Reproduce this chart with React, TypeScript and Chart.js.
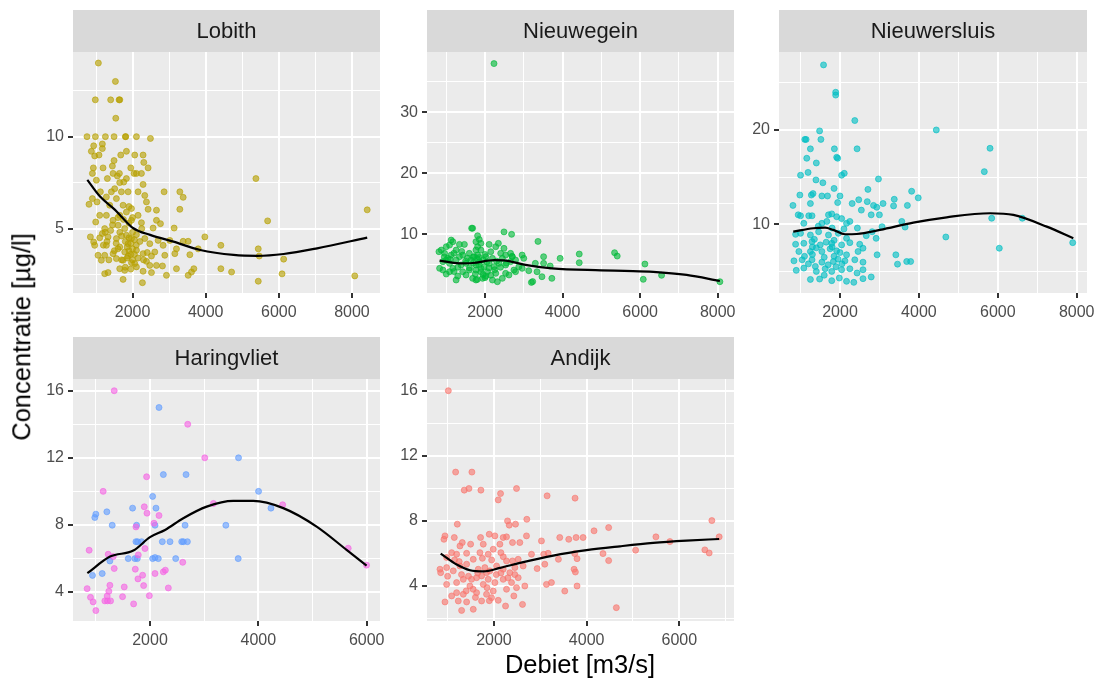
import React, { useEffect, useRef } from "react";
import { Chart, registerables } from "chart.js";

Chart.register(...registerables);

const FONT = '"Liberation Sans", Arial, Helvetica, sans-serif';

// ---------------- DATA ----------------
const stations = ["Lobith", "Nieuwegein", "Nieuwersluis", "Haringvliet", "Andijk"];

const lobithPoints: [number, number][] = [
  [1064, 14], [1530, 13], [980, 12], [1400, 12], [1630, 12], [1650, 12], [1540, 11],
  [753, 10], [982, 10], [1256, 10], [1493, 10], [1803, 10], [1812, 10], [2105, 10], [2488, 9.9],
  [1173, 9.6], [936, 9.5], [872, 9.2], [1173, 9.35], [963, 8.95], [1082, 9.0], [1831, 9.2], [1676, 9.0],
  [2059, 9.0], [2287, 9.0], [1493, 8.7], [2306, 8.6], [1447, 8.4], [927, 8.3], [1192, 8.3], [2424, 8.3],
  [1950, 8.3], [2105, 8.0], [1639, 8.0], [2242, 8.0], [900, 8.0], [1466, 8.0], [1584, 7.86], [1831, 7.72],
  [1310, 7.72], [1009, 7.63], [2041, 8.0], [1758, 7.53], [2287, 7.4], [1648, 7.5], [1511, 7.17], [1420, 7.0],
  [1119, 7.0], [1694, 7.0], [1877, 7.0], [2150, 7.0], [2862, 7.0], [3292, 7.0], [3383, 6.7], [1283, 6.72],
  [1557, 6.63], [2333, 6.8], [900, 6.63], [808, 6.32], [1027, 6.45], [1374, 6.27], [1740, 6.27], [1968, 6.09],
  [2424, 6.05], [3292, 6.05], [2653, 6.0], [2379, 6.45], [1100, 5.72], [1283, 5.72], [1648, 5.72], [1831, 5.9],
  [2150, 5.72], [991, 5.36], [1466, 5.45], [1968, 5.45], [2242, 5.32], [2653, 5.45], [2762, 5.27], [1237, 5.0],
  [1603, 5.18], [1785, 5.0], [2561, 5.03], [3136, 5.03], [845, 4.55], [936, 4.27], [1173, 4.73], [1329, 4.55],
  [1557, 4.46], [1831, 4.64], [1968, 4.46], [2105, 4.67], [2333, 4.46], [2698, 4.36], [2835, 4.09], [3018, 4.36],
  [3383, 4.31], [3520, 4.31], [3976, 4.55], [963, 4.09], [1283, 4.09], [1648, 4.0], [1877, 4.18], [2470, 4.18],
  [3200, 3.9], [3794, 3.9], [4414, 4.09], [5437, 3.9], [1055, 3.55], [1237, 3.55], [1466, 3.64], [1785, 3.73],
  [1877, 3.51], [2105, 3.82], [2287, 3.64], [2516, 3.51], [2607, 3.73], [2881, 3.55], [3155, 3.64], [3566, 3.58],
  [5464, 3.51], [1146, 3.28], [1557, 3.37], [1740, 3.28], [1968, 3.15], [2059, 3.1], [2379, 3.22], [2470, 3.0],
  [2653, 3.0], [2105, 2.92], [2817, 2.97], [1237, 2.55], [1329, 2.61], [1648, 2.82], [1785, 2.73], [2287, 2.68],
  [2516, 2.61], [2926, 2.46], [3200, 2.82], [3520, 2.46], [3611, 2.64], [3675, 2.82], [4414, 2.82], [4707, 2.64],
  [1740, 2.24], [2269, 2.06], [5437, 2.14], [5373, 7.72], [5693, 5.42], [6132, 3.34], [6088, 2.54], [8077, 2.43],
  [8417, 6.02], [1900, 3.8], [2000, 3.9], [1950, 4.2], [2050, 3.6], [1850, 3.4], [2000, 4.8], [1900, 5.3],
  [2100, 4.1], [1700, 4.6], [1600, 3.9], [1400, 4.9], [1300, 4.3], [1200, 4.1], [1350, 3.3], [1450, 5.2],
  [1900, 4.5], [2200, 4.3], [2300, 3.3], [1800, 2.9], [2000, 3.3],
  [1550, 4.2], [1650, 4.8], [1750, 5.5], [1850, 4.0], [1950, 3.6], [2050, 4.4], [2150, 3.4], [1600, 5.6],
  [1700, 3.3], [1900, 6.2], [2000, 5.6], [1800, 4.3], [1500, 3.8], [1250, 4.8], [1100, 4.5], [2250, 5.0],
  [2400, 3.7], [1950, 2.8],
];
const lobithSmooth: [number, number][] = [
  [762, 7.65], [1110, 6.74], [1520, 6.02], [1677, 5.69], [2022, 5.02], [2480, 4.66], [3118, 4.29],
  [3850, 3.84], [4762, 3.57], [5403, 3.52], [6132, 3.62], [7047, 3.93], [8417, 4.51],
];

const nieuwegeinPoints: [number, number][] = [
  [1656, 11.0], [1681, 11.0], [2490, 10.4], [2686, 10.0], [1809, 9.77], [3366, 8.84], [1128, 9.06], [1171, 8.79],
  [1341, 8.35], [1469, 8.35], [1001, 7.97], [873, 7.42], [813, 7.15], [1086, 8.24], [1256, 7.42], [1767, 8.79],
  [1809, 7.97], [1894, 7.42], [2107, 8.35], [2345, 8.52], [2490, 7.7], [2277, 7.97], [2149, 7.15], [2405, 6.88],
  [2532, 6.6], [2703, 6.33], [2958, 6.6], [3000, 6.06], [1596, 6.88], [1426, 6.6], [1128, 6.6], [958, 6.88],
  [1724, 6.33], [2022, 6.33], [3511, 6.33], [3937, 6.06], [4430, 6.77], [4430, 5.35], [5341, 6.99], [5409, 6.44],
  [3298, 5.24], [3511, 5.24], [3681, 4.8], [3128, 4.04], [3341, 3.87], [3469, 3.05], [3724, 2.78], [3196, 2.12],
  [3230, 2.25], [830, 4.42], [916, 4.14], [1001, 3.49], [1086, 3.87], [1256, 2.51], [1298, 3.16], [1511, 3.33],
  [1681, 2.78], [1767, 2.51], [1937, 2.78], [2022, 3.16], [2192, 2.51], [2320, 2.23], [2447, 2.78], [2532, 3.6],
  [2745, 4.14], [2873, 4.69], [916, 5.51], [1086, 5.24], [1256, 5.78], [1384, 4.97], [1511, 5.24], [1639, 5.78],
  [1767, 4.97], [1852, 5.51], [1979, 4.69], [2107, 5.24], [2235, 4.69], [2362, 5.24], [2532, 4.97], [2660, 5.51],
  [2788, 5.78], [1767, 4.14], [1894, 3.87], [2064, 3.87], [1596, 4.14], [1426, 3.87], [2277, 3.6], [2618, 3.33],
  [1171, 4.42], [1043, 6.06], [1341, 6.33], [1809, 6.6], [1894, 8.52], [1852, 9.17], [1767, 7.42], [2192, 6.06],
  [2447, 6.06], [2660, 6.88], [2788, 3.87], [2958, 4.42], [2232, 38.0], [6123, 5.13], [6080, 2.62], [6553, 3.28],
  [8056, 2.23], [1800, 6.0], [1850, 5.0], [1900, 4.4], [1750, 3.5], [1950, 5.8], [2000, 2.9], [1700, 5.3],
  [1550, 6.1], [1200, 6.9], [1000, 5.8], [2100, 4.5], [2300, 5.6],
  [1100, 5.9], [1300, 4.6], [1500, 5.6], [1600, 4.5], [1700, 6.3], [1850, 6.2], [1950, 3.4], [2050, 5.5],
  [2150, 3.3], [2250, 4.2], [2400, 4.6], [2550, 5.3], [1400, 7.2], [1200, 3.9], [950, 6.3], [2700, 6.4],
  [1800, 2.6], [2000, 6.7],
];
const nieuwegeinSmooth: [number, number][] = [
  [830, 5.7], [1341, 5.25], [1681, 5.3], [2235, 5.78], [2532, 5.7], [3043, 5.0], [3724, 4.42],
  [5000, 4.1], [5596, 4.0], [6337, 3.85], [7198, 3.35], [8056, 2.35],
];

const nieuwersluisPoints: [number, number][] = [
  [1583, 26.9], [1891, 24.0], [1891, 23.7], [2375, 21.0], [4441, 20.0], [1483, 19.9], [1108, 19.0], [1141, 19.0],
  [1516, 19.0], [1250, 18.0], [1858, 18.0], [2433, 18.0], [1158, 17.0], [1916, 17.1], [1941, 17.0], [1400, 16.5],
  [1191, 15.5], [1000, 15.2], [2041, 15.2], [2108, 15.4], [1391, 14.7], [1566, 14.4], [2975, 14.8], [1850, 13.8],
  [983, 13.1], [1275, 13.1], [1316, 13.25], [1541, 13.0], [1683, 13.0], [2000, 13.0], [2708, 13.7], [3816, 13.5],
  [3983, 12.8], [3375, 12.65], [3358, 11.95], [2475, 12.6], [2308, 12.2], [2691, 12.4], [2850, 12.0], [2933, 11.8],
  [3091, 12.2], [3708, 12.0], [808, 12.0], [1250, 12.2], [1941, 12.3], [2541, 11.5], [2791, 11.0], [2999, 11.0],
  [3566, 10.3], [3650, 9.7], [4683, 8.65], [941, 11.0], [1000, 10.9], [1208, 10.9], [1291, 10.9], [1708, 11.0],
  [1791, 11.1], [1916, 10.8], [2041, 10.6], [2166, 10.1], [2250, 10.3], [1083, 10.1], [1541, 10.1], [1666, 10.3],
  [2441, 9.6], [3066, 9.74], [875, 8.93], [1000, 9.04], [1250, 8.86], [1458, 9.21], [1708, 8.86], [1958, 9.04],
  [2166, 8.51], [2666, 8.79], [2916, 8.51], [2816, 9.21], [875, 7.88], [1083, 7.98], [1291, 8.16], [1500, 7.81],
  [1791, 7.98], [2041, 7.81], [2250, 8.05], [2500, 7.88], [958, 7.11], [1250, 7.11], [1541, 7.11], [1916, 7.18],
  [2166, 6.76], [2458, 7.11], [2583, 7.46], [2941, 6.76], [3416, 6.76], [3691, 6.05], [3791, 6.05], [833, 6.12],
  [1041, 6.23], [1291, 6.23], [1541, 5.98], [1833, 6.05], [2125, 6.12], [2375, 6.23], [2583, 5.98], [891, 5.11],
  [1083, 5.35], [1375, 5.53], [1625, 5.28], [1791, 5.0], [2041, 5.18], [2250, 5.28], [2433, 4.83], [2583, 5.18],
  [3458, 5.77], [1250, 4.15], [1483, 4.19], [1791, 4.02], [1983, 4.3], [2166, 3.95], [2350, 3.84], [2791, 4.41],
  [2583, 4.23], [6038, 7.46], [5845, 10.64], [5803, 18.06], [5658, 15.58], [6621, 10.64], [7899, 8.05],
  [1400, 7.5], [1600, 6.5], [1750, 7.4], [1850, 6.6], [2000, 7.0], [1300, 6.8], [1200, 5.8], [1700, 5.7],
  [1900, 5.5], [1450, 9.8], [1800, 9.6], [2100, 9.5],
  [1100, 6.6], [1350, 8.4], [1650, 8.1], [1850, 8.3], [1950, 6.3], [1400, 5.0], [1600, 4.6], [1800, 7.6],
  [2050, 5.8], [1300, 7.6],
];
const nieuwersluisSmooth: [number, number][] = [
  [816, 9.22], [1323, 9.58], [1620, 9.64], [1830, 9.4], [2127, 8.94], [2423, 8.97], [3014, 9.4],
  [3858, 10.17], [4705, 10.74], [5803, 11.17], [6394, 10.99], [7240, 9.75], [7914, 8.52],
];

const haringvlietPinkPoints: [number, number][] = [
  [1339, 16.0], [2696, 14.0], [3011, 12.0], [1937, 10.87], [1135, 10.0], [1894, 9.08], [1944, 8.7], [2166, 8.56],
  [2073, 8.1], [1740, 7.88], [3171, 9.28], [4449, 9.2], [876, 6.49], [1228, 6.25], [1320, 6.11], [1783, 6.21],
  [1907, 6.59], [2604, 5.77], [1339, 5.4], [1728, 5.36], [2092, 5.1], [2246, 5.2], [2283, 5.3], [1777, 4.78],
  [1863, 5.0], [1259, 4.4], [1524, 4.3], [1240, 4.04], [1209, 3.76], [1882, 4.38], [2338, 4.24], [839, 4.2],
  [901, 3.68], [950, 3.41], [1493, 3.72], [1987, 3.78], [1166, 3.47], [1215, 3.47], [1271, 3.47], [1697, 3.29],
  [1000, 2.89], [5659, 6.61], [5998, 5.6],
];
const haringvlietBluePoints: [number, number][] = [
  [2166, 15.0], [3634, 12.0], [2246, 11.0], [2665, 11.0], [4004, 10.0], [2048, 9.7], [4233, 9.0], [1678, 9.0],
  [2110, 9.0], [1000, 8.64], [981, 8.44], [1203, 8.78], [1302, 7.98], [1752, 7.98], [2092, 7.98], [2647, 7.98],
  [3400, 7.98], [1740, 7.0], [1771, 7.0], [1845, 7.0], [2227, 7.0], [2369, 7.0], [2585, 7.0], [2616, 7.0],
  [2690, 7.0], [1259, 5.85], [1598, 5.99], [1721, 5.99], [1765, 5.99], [2048, 5.99], [2092, 6.05], [2153, 5.99],
  [2474, 5.99], [3628, 5.99], [1117, 5.1], [938, 4.99],
];
const haringvlietSmooth: [number, number][] = [
  [843, 5.12], [1262, 6.11], [1692, 6.47], [2000, 7.27], [2277, 7.7], [2614, 8.4], [3046, 9.09],
  [3537, 9.43], [3906, 9.43], [4460, 9.0], [5076, 7.9], [5629, 6.51], [5998, 5.57],
];

const andijkPoints: [number, number][] = [
  [1015, 16.0], [1173, 11.0], [1524, 11.0], [1359, 9.89], [1460, 9.99], [1718, 9.89], [2487, 9.99], [2142, 9.68],
  [2092, 9.29], [3147, 9.54], [3750, 9.4], [1209, 7.8], [2293, 8.0], [2329, 7.74], [2465, 7.8], [2709, 8.1],
  [4475, 7.59], [4160, 7.39], [943, 7.08], [921, 6.87], [1144, 6.98], [1316, 6.67], [1496, 6.57], [1711, 6.98],
  [1898, 7.18], [2020, 7.08], [2199, 6.98], [2271, 7.02], [1769, 6.57], [2128, 6.57], [2400, 6.67], [2558, 6.67],
  [2702, 7.08], [3025, 6.77], [3420, 6.98], [3614, 6.87], [3772, 6.98], [3923, 6.98], [1266, 6.46], [1087, 6.05],
  [979, 5.75], [1194, 5.95], [1410, 6.01], [1553, 5.64], [1697, 6.05], [1876, 5.95], [1984, 6.26], [2149, 6.05],
  [2271, 5.54], [2400, 5.54], [2523, 5.64], [2810, 5.95], [3075, 5.95], [3169, 6.01], [3391, 5.64], [3743, 5.99],
  [3793, 5.68], [4353, 5.99], [4475, 5.56], [5057, 6.2], [835, 5.03], [850, 4.82], [979, 5.13], [1122, 4.93],
  [1266, 5.23], [1410, 5.34], [1661, 5.03], [1804, 5.13], [1912, 4.93], [2056, 5.23], [2199, 5.03], [2343, 4.82],
  [2451, 5.13], [2630, 5.23], [2932, 5.07], [3097, 5.34], [3729, 5.03], [3757, 4.86], [979, 4.1], [1194, 4.21],
  [1338, 4.41], [1481, 4.0], [1625, 4.51], [1769, 4.1], [1876, 4.41], [2020, 4.21], [2199, 4.41], [2379, 4.21],
  [2523, 4.51], [2666, 4.0], [3133, 4.1], [3240, 4.21], [3528, 3.69], [3793, 4.0], [943, 3.02], [1087, 3.39],
  [1230, 3.08], [1410, 3.02], [1553, 2.57], [1302, 2.5], [1733, 3.08], [1840, 3.49], [1948, 3.28], [2092, 3.12],
  [2250, 2.77], [2429, 3.39], [2616, 2.87], [4641, 2.67], [1194, 3.59], [1338, 3.49], [1625, 3.59], [1984, 3.69],
  [2271, 3.8], [2487, 3.9], [1517, 4.41], [1733, 4.62], [1840, 4.82], [5495, 7.02], [5797, 6.73], [6551, 6.22],
  [6644, 6.03], [6702, 8.02], [6860, 7.02],
  [1000, 4.6], [1150, 5.6], [1300, 4.7], [1450, 4.6], [1550, 3.8], [1650, 4.8], [1750, 5.7], [1850, 3.9],
  [1950, 5.6], [2050, 4.7], [2150, 4.8], [2300, 4.5], [2450, 4.7], [1600, 3.3], [1400, 3.7], [1900, 3.1],
  [2200, 5.8], [1250, 5.5],
];
const andijkSmooth: [number, number][] = [
  [850, 5.99], [1195, 5.32], [1482, 4.97], [1769, 4.9], [2129, 5.11], [2561, 5.42], [3279, 5.87],
  [3999, 6.2], [4718, 6.44], [5437, 6.65], [6156, 6.79], [6860, 6.89],
];

// tick values
const xMajorWide = [2000, 4000, 6000, 8000];
const xMinorWide = [1000, 3000, 5000, 7000];
const xMajorNarrow = [2000, 4000, 6000];
const xMinorHaringvliet = [1000, 3000, 5000];
const xMinorAndijk = [1000, 3000, 5000, 7000];
const yMajorLobith = [5, 10];
const yMinorLobith = [2.5, 7.5, 12.5];
const yMajorNieuwegein = [10, 20, 30];
const yMinorNieuwegein = [5, 15, 25, 35];
const yMajorNieuwersluis = [10, 20];
const yMinorNieuwersluis = [5, 15, 25];
const yMajorHaringvliet = [4, 8, 12, 16];
const yMinorHaringvliet = [6, 10, 14];
const yMajorAndijk = [4, 8, 12, 16];
const yMinorAndijk = [2, 6, 10, 14];

// ---------------- LAYOUT ----------------
const YW = 73;
const PR = 30;
const XH = 34;
const STRIP = 42;

type Series = { points: [number, number][]; color: string };
type PanelSpec = {
  title: string;
  left: number;
  top: number;
  w: number;
  h: number;
  xRange: [number, number];
  yRange: [number, number];
  xMajor: number[];
  xMinor: number[];
  yMajor: number[];
  yMinor: number[];
  series: Series[];
  smooth: [number, number][];
};

const panels: PanelSpec[] = [
  {
    title: stations[0], left: 73, top: 10, w: 307, h: 241,
    xRange: [370, 8767], yRange: [1.5, 14.6],
    xMajor: xMajorWide, xMinor: xMinorWide, yMajor: yMajorLobith, yMinor: yMinorLobith,
    series: [{ points: lobithPoints, color: "183,159,0" }], smooth: lobithSmooth,
  },
  {
    title: stations[1], left: 427, top: 10, w: 307, h: 241,
    xRange: [505, 8420], yRange: [0.38, 39.9],
    xMajor: xMajorWide, xMinor: xMinorWide, yMajor: yMajorNieuwegein, yMinor: yMinorNieuwegein,
    series: [{ points: nieuwegeinPoints, color: "0,186,56" }], smooth: nieuwegeinSmooth,
  },
  {
    title: stations[2], left: 779, top: 10, w: 308, h: 241,
    xRange: [454, 8261], yRange: [2.71, 28.27],
    xMajor: xMajorWide, xMinor: xMinorWide, yMajor: yMajorNieuwersluis, yMinor: yMinorNieuwersluis,
    series: [{ points: nieuwersluisPoints, color: "0,191,196" }], smooth: nieuwersluisSmooth,
  },
  {
    title: stations[3], left: 73, top: 337, w: 307, h: 242,
    xRange: [578, 6246], yRange: [2.27, 16.7],
    xMajor: xMajorNarrow, xMinor: xMinorHaringvliet, yMajor: yMajorHaringvliet, yMinor: yMinorHaringvliet,
    series: [
      { points: haringvlietPinkPoints, color: "245,100,227" },
      { points: haringvlietBluePoints, color: "97,156,255" },
    ],
    smooth: haringvlietSmooth,
  },
  {
    title: stations[4], left: 427, top: 337, w: 307, h: 242,
    xRange: [555, 7180], yRange: [1.85, 16.72],
    xMajor: xMajorNarrow, xMinor: xMinorAndijk, yMajor: yMajorAndijk, yMinor: yMinorAndijk,
    series: [{ points: andijkPoints, color: "248,118,109" }], smooth: andijkSmooth,
  },
];

function axisConfig(range: [number, number], major: number[], minor: number[], isX: boolean) {
  const majorSet = new Set(major);
  const all = [...major, ...minor].filter((v) => v >= range[0] && v <= range[1]).sort((a, b) => a - b);
  return {
    type: "linear" as const,
    position: isX ? ("bottom" as const) : ("left" as const),
    min: range[0],
    max: range[1],
    afterBuildTicks: (s: any) => {
      s.ticks = all.map((v) => ({ value: v }));
    },
    afterFit: (s: any) => {
      if (isX) s.height = XH;
      else s.width = YW;
    },
    border: { display: false },
    grid: {
      color: "#FFFFFF",
      lineWidth: (c: any) => (c.tick && majorSet.has(c.tick.value) ? 2 : 1),
      tickColor: (c: any) => (c.tick && majorSet.has(c.tick.value) ? "#333333" : "rgba(0,0,0,0)"),
      tickWidth: (c: any) => (c.tick && majorSet.has(c.tick.value) ? 2 : 0),
      tickLength: 5,
      drawTicks: true,
      drawOnChartArea: true,
    },
    ticks: {
      autoSkip: false,
      maxRotation: 0,
      minRotation: 0,
      padding: isX ? 5 : 4,
      color: "#4D4D4D",
      font: { family: FONT, size: 16 },
      callback: (v: any) => (majorSet.has(Number(v)) ? String(v) : ""),
    },
  };
}

function Panel({ p }: { p: PanelSpec }) {
  const ref = useRef<HTMLCanvasElement>(null);
  const W = YW + p.w + PR;
  const H = STRIP + p.h + XH;

  useEffect(() => {
    const canvas = ref.current;
    if (!canvas) return;
    const decor = {
      id: "facetDecor",
      beforeDraw(chart: any) {
        const { ctx, chartArea: a } = chart;
        ctx.save();
        ctx.fillStyle = "#EBEBEB";
        ctx.fillRect(a.left, a.top, a.right - a.left, a.bottom - a.top);
        ctx.fillStyle = "#D9D9D9";
        ctx.fillRect(a.left, 0, a.right - a.left, a.top);
        ctx.fillStyle = "#1A1A1A";
        ctx.font = `22px ${FONT}`;
        ctx.textAlign = "center";
        ctx.textBaseline = "middle";
        ctx.fillText(p.title, (a.left + a.right) / 2, a.top / 2 + 1);
        ctx.restore();
      },
    };
    const datasets: any[] = [
      {
        type: "line",
        data: p.smooth.map(([x, y]) => ({ x, y })),
        borderColor: "#000000",
        borderWidth: 2.2,
        pointRadius: 0,
        fill: false,
        showLine: true,
        cubicInterpolationMode: "monotone",
        order: 0,
      },
      ...p.series.map((s, i) => ({
        type: "scatter",
        data: s.points.map(([x, y]) => ({ x, y })),
        backgroundColor: `rgba(${s.color},0.62)`,
        borderColor: `rgba(${s.color},0.62)`,
        borderWidth: 1,
        pointRadius: 3,
        pointHoverRadius: 3,
        order: 1 + i,
      })),
    ];
    const chart = new Chart(canvas, {
      type: "scatter",
      data: { datasets },
      options: {
        animation: false,
        responsive: false,
        maintainAspectRatio: false,
        devicePixelRatio: 1,
        events: [],
        layout: { padding: { left: 0, right: PR, top: STRIP, bottom: 0 } },
        plugins: { legend: { display: false }, tooltip: { enabled: false } },
        scales: {
          x: axisConfig(p.xRange, p.xMajor, p.xMinor, true),
          y: axisConfig(p.yRange, p.yMajor, p.yMinor, false),
        },
      } as any,
      plugins: [decor],
    });
    return () => chart.destroy();
  }, [p]);

  return (
    <canvas
      ref={ref}
      width={W}
      height={H}
      style={{ position: "absolute", left: p.left - YW, top: p.top, width: W, height: H }}
    />
  );
}

export default function App() {
  return (
    <div
      style={{
        position: "fixed",
        left: 0,
        top: 0,
        width: 1113,
        height: 689,
        background: "#FFFFFF",
        overflow: "hidden",
        fontFamily: FONT,
      }}
    >
      {panels.map((p) => (
        <Panel key={p.title} p={p} />
      ))}
      <div
        style={{
          position: "absolute",
          left: 22,
          top: 337,
          transform: "translate(-50%, -50%) rotate(-90deg)",
          whiteSpace: "nowrap",
          fontSize: 25.5,
          color: "#000000",
          lineHeight: 1,
        }}
      >
        Concentratie [µg/l]
      </div>
      <div
        style={{
          position: "absolute",
          left: 580,
          top: 665,
          transform: "translate(-50%, -50%)",
          whiteSpace: "nowrap",
          fontSize: 25.5,
          color: "#000000",
          lineHeight: 1,
        }}
      >
        Debiet [m3/s]
      </div>
    </div>
  );
}
